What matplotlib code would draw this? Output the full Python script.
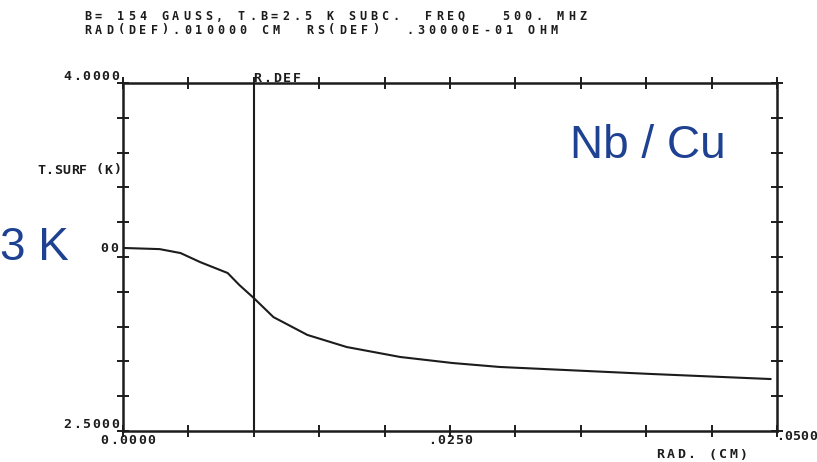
import numpy as np
import matplotlib.pyplot as plt

# surface temperature vs defect radius (read from the printed run)
rad_cm = [0.0, 0.0028, 0.0044, 0.0059, 0.0080, 0.0089, 0.0100, 0.0115,
          0.0141, 0.0171, 0.0212, 0.0252, 0.0288, 0.0403, 0.0495]
t_surf = [3.289, 3.284, 3.267, 3.228, 3.181, 3.129, 3.073, 2.991,
          2.914, 2.862, 2.819, 2.793, 2.776, 2.746, 2.724]

r_def = 0.010
header = ["B= 154 GAUSS, T.B=2.5 K SUBC.  FREQ   500. MHZ",
          "RAD(DEF).010000 CM  RS(DEF)  .30000E-01 OHM"]
x_ticks = np.linspace(0.0, 0.05, 11)
y_ticks = np.linspace(2.5, 4.0, 11)

W, H = 817, 462
ink = '#1c1c1c'
blue = '#1F4192'

fig = plt.figure(figsize=(W / 100, H / 100), dpi=100)
ax = fig.add_axes([123 / W, 1 - 431 / H, 654 / W, 348 / H])


def printer_text(x, y, s, pitch=9.2, ha='left', size=9.5):
    # fixed-pitch plotter lettering, one glyph per cell; x, y in pixels from top-left
    n = len(s)
    if ha == 'right':
        x0 = x - n * pitch
    elif ha == 'center':
        x0 = x - n * pitch / 2
    else:
        x0 = x
    for i, ch in enumerate(s):
        if ch == ' ':
            continue
        fig.text((x0 + (i + 0.5) * pitch) / W, 1 - y / H, ch, ha='center',
                 va='center', family='DejaVu Sans Mono', fontweight='bold',
                 fontsize=size, color=ink)


ax.plot(rad_cm, t_surf, color=ink, lw=1.5)
ax.axvline(r_def, color=ink, lw=1.5)

ax.set_xlim(0.0, 0.05)
ax.set_ylim(2.5, 4.0)
ax.set_xticks(x_ticks)
ax.set_yticks(y_ticks)
ax.set_xticklabels([])
ax.set_yticklabels([])
ax.tick_params(direction='inout', length=8, width=1.4, color=ink,
               top=True, right=True)
for s in ax.spines.values():
    s.set_color(ink)
    s.set_linewidth(1.8)

# printed labels
printer_text(82, 16, header[0], pitch=11.0, size=8.5)
printer_text(82, 30, header[1], pitch=11.1, size=8.5)
printer_text(120, 76, "4.0000", ha='right', pitch=9.6)
printer_text(120, 425, "2.5000", ha='right', pitch=9.6)
printer_text(119, 248, "00", ha='right', pitch=9.6)
printer_text(121, 170, "T.SURF (K)", ha='right', pitch=8.4)
printer_text(128, 440, "0.0000", ha='center', pitch=9.4)
printer_text(450, 440, ".0250", ha='center', pitch=9.0)
printer_text(776, 437, ".0500", pitch=8.2)
printer_text(655, 455, "RAD. (CM)", pitch=10.4)
printer_text(252, 78, "R.DEF", pitch=10.0)

# annotations
ax.text(0.0401, 3.73, "Nb / Cu", ha='center', va='center', color=blue,
        fontsize=33, family='Liberation Sans')
fig.text(0.0, 1 - 248 / H, "3 K", ha='left', va='center', color=blue,
         fontsize=33, family='Liberation Sans')

fig.savefig('out.png', dpi=100)
